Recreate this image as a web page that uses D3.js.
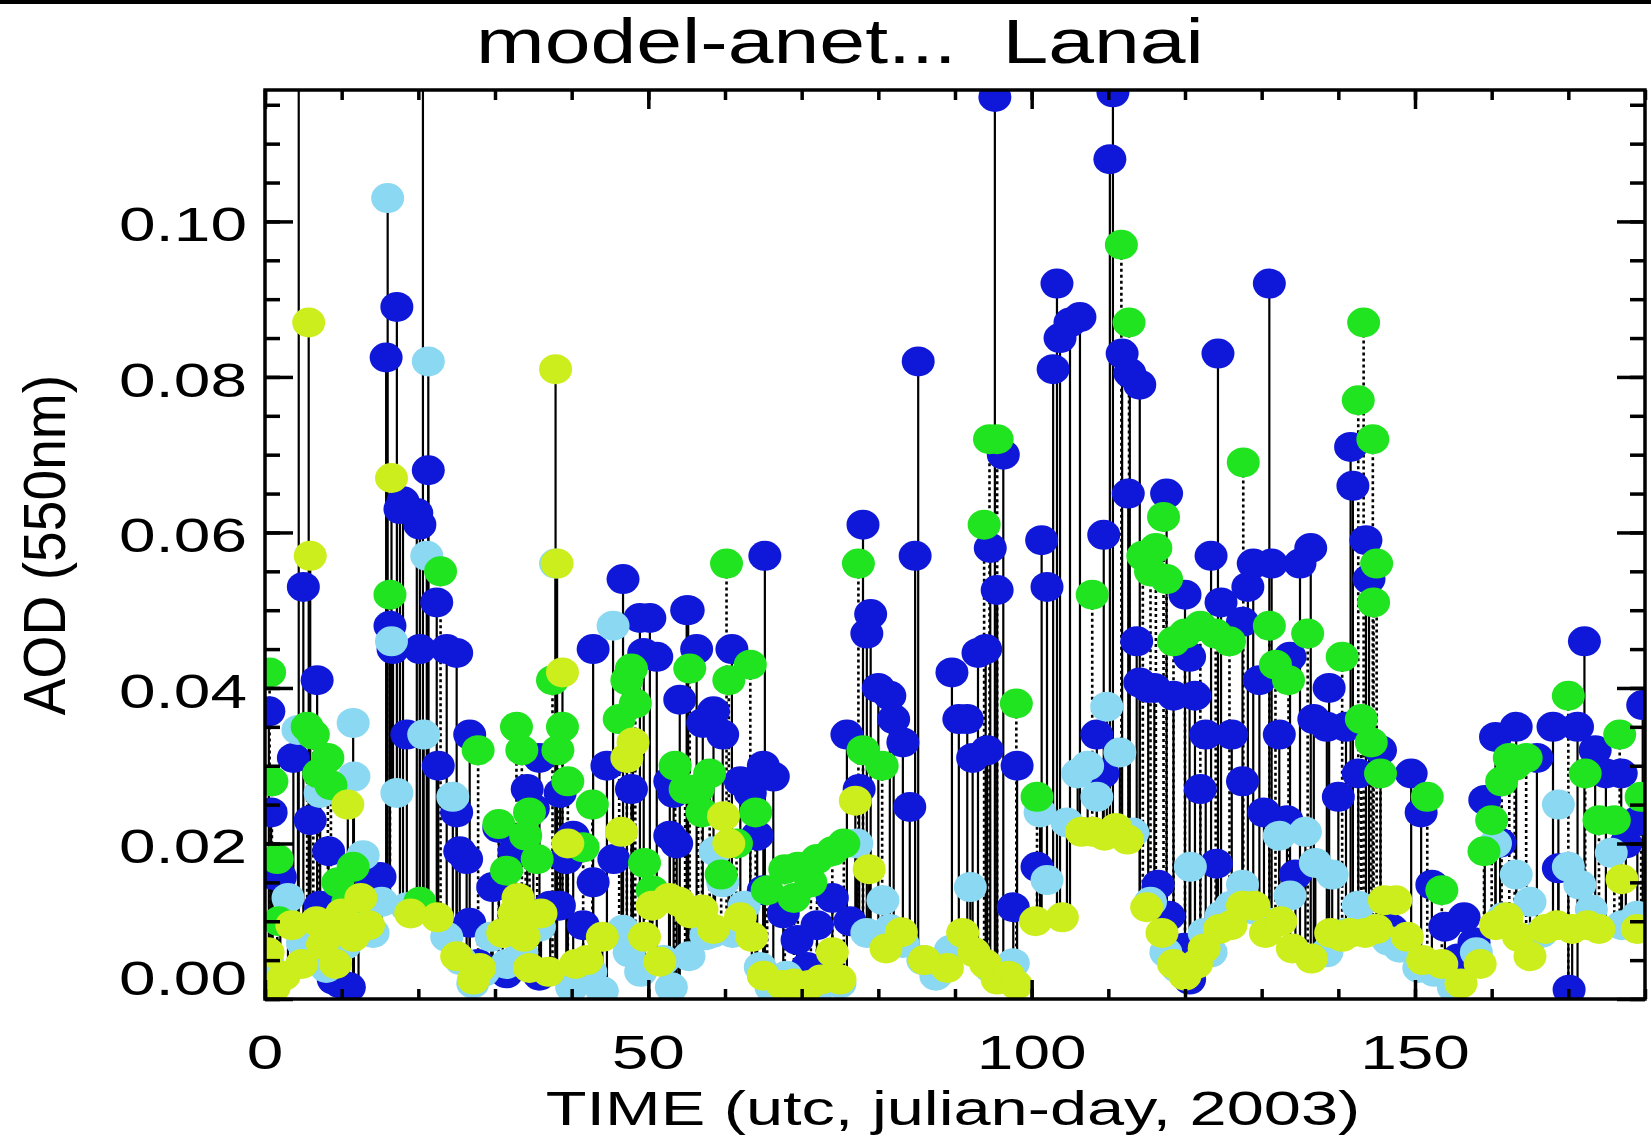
<!DOCTYPE html>
<html>
<head>
<meta charset="utf-8">
<script src="https://cdn.jsdelivr.net/npm/d3@7"></script>
<style>
  body { margin: 0; background: #fff; }
  svg { display: block; }
  text { font-family: "Liberation Sans", Arial, Helvetica, sans-serif; fill: #000; white-space: pre; }
</style>
</head>
<body>
<div id="chart"></div>
<script>
//Observations as [julian day, AOD 550nm], one list per colour
const blueAOD = [
  [0.5,0.037],[0.8,0.024],[1.0,0.016],[2.0,0.0157],[3.7,0.031],[4.4,0.150],[5.0,0.053],[5.9,0.023],[6.8,0.041],[7.2,0.012],
  [8.3,0.019],[8.9,0.0025],[9.8,0.002],[11.0,0.0015],[12.2,0.009],[13.7,0.0157],[15.0,0.0157],[15.8,0.0825],[16.3,0.048],[16.7,0.045],
  [17.2,0.089],[17.6,0.063],[18.0,0.064],[18.5,0.034],[19.8,0.0625],[20.2,0.061],[20.2,0.045],[20.6,0.140],[21.3,0.068],[22.4,0.051],
  [22.6,0.030],[23.7,0.045],[25.0,0.0445],[25.0,0.024],[25.4,0.019],[26.3,0.018],[26.7,0.034],[26.7,0.0098],[27.8,0.0045],[29.7,0.0144],
  [30.5,0.022],[31.5,0.0033],[32.5,0.019],[34.2,0.027],[35.0,0.0245],[35.8,0.031],[35.8,0.003],[37.2,0.012],[38.4,0.012],[38.5,0.0265],
  [39.3,0.018],[40.2,0.021],[41.5,0.0095],[42.8,0.045],[42.8,0.015],[44.6,0.030],[45.5,0.018],[46.7,0.054],[47.8,0.027],[48.9,0.049],
  [49.4,0.0445],[50.2,0.049],[51.1,0.044],[52.8,0.028],[52.8,0.021],[53.3,0.0265],[53.7,0.020],[54.1,0.0385],[55.0,0.050],[55.2,0.050],
  [56.3,0.045],[57.1,0.0355],[58.5,0.037],[59.7,0.034],[60.9,0.045],[62.0,0.028],[63.3,0.0265],[64.2,0.021],[65.0,0.030],[65.2,0.057],
  [65.0,0.014],[66.3,0.0286],[67.6,0.011],[69.4,0.0076],[70.7,0.0041],[72.0,0.0095],[74.0,0.013],[75.9,0.034],[76.3,0.010],[77.5,0.027],
  [78.0,0.061],[78.5,0.047],[79.0,0.0495],[80.0,0.040],[81.5,0.039],[82.0,0.036],[83.2,0.033],[84.1,0.0247],[84.8,0.057],[85.2,0.082],
  [89.6,0.042],[90.5,0.036],[91.6,0.036],[92.3,0.031],[93.0,0.0445],[94.0,0.045],[94.2,0.032],[94.6,0.058],[95.2,0.116],[95.5,0.0526],
  [96.3,0.070],[97.6,0.0118],[98.1,0.030],[100.7,0.017],[101.3,0.059],[102.0,0.053],[102.8,0.081],[103.3,0.092],[103.7,0.085],[105.0,0.087],
  [106.3,0.0877],[108.5,0.034],[109.3,0.029],[109.4,0.0597],[110.2,0.108],[110.6,0.1166],[111.8,0.083],[112.6,0.065],[112.8,0.0805],[113.7,0.046],
  [114.1,0.079],[114.1,0.0407],[115.2,0.040],[116.0,0.040],[116.5,0.0147],[117.6,0.065],[117.9,0.0107],[118.5,0.039],[119.9,0.0066],[120.0,0.052],
  [120.6,0.044],[120.6,0.0025],[121.3,0.039],[122.0,0.027],[122.7,0.034],[123.4,0.057],[124.1,0.0174],[124.3,0.083],[124.7,0.051],[126.1,0.034],
  [127.5,0.0485],[127.5,0.028],[128.2,0.053],[128.9,0.056],[129.7,0.041],[130.3,0.024],[131.0,0.092],[131.3,0.056],[132.3,0.034],[133.3,0.023],
  [133.7,0.044],[134.4,0.016],[135.0,0.056],[136.4,0.058],[136.8,0.036],[138.5,0.035],[138.8,0.040],[140.0,0.026],[141.0,0.035],[141.6,0.071],
  [141.9,0.066],[142.6,0.029],[143.6,0.059],[144.0,0.054],[145.5,0.032],[147.0,0.009],[149.5,0.029],[150.8,0.024],[152.2,0.0147],[153.9,0.0093],
  [155.6,0.0052],[156.4,0.0105],[157.7,0.0073],[159.1,0.0256],[160.5,0.0337],[161.1,0.0201],[163.2,0.035],[165.9,0.031],[168.0,0.035],[168.7,0.0168],
  [170.1,0.0012],[171.2,0.035],[172.1,0.046],[173.5,0.032],[174.9,0.029],[176.9,0.029],[177.5,0.020],[179.0,0.0229],[179.7,0.0378]
];

const cyanAOD = [
  [0.3,0.005],[1.5,0.0025],[3.0,0.013],[4.3,0.0346],[4.9,0.0072],[6.0,0.009],[7.2,0.0265],[8.0,0.004],[10.5,0.007],[11.5,0.0355],
  [11.6,0.0286],[12.8,0.0185],[14.1,0.0085],[15.2,0.0125],[16.0,0.103],[16.5,0.046],[17.2,0.0265],[18.5,0.0118],[20.7,0.034],[21.1,0.057],
  [21.3,0.082],[23.7,0.008],[24.5,0.026],[25.5,0.005],[27.1,0.002],[28.5,0.0035],[29.5,0.008],[31.5,0.0045],[33.5,0.006],[35.8,0.0093],
  [37.9,0.056],[40.0,0.0015],[42.5,0.0035],[44.0,0.001],[45.4,0.048],[46.7,0.0089],[47.5,0.006],[49.0,0.0035],[52.0,0.005],[53.0,0.0015],
  [55.3,0.0055],[57.5,0.0082],[58.4,0.0085],[58.7,0.019],[59.7,0.015],[61.0,0.0085],[62.5,0.012],[64.6,0.0041],[66.0,0.0015],[68.0,0.003],
  [72.0,0.0012],[75.0,0.002],[77.2,0.020],[78.5,0.0085],[80.6,0.0127],[81.5,0.009],[83.2,0.0072],[85.8,0.005],[87.5,0.003],[89.4,0.0063],
  [92.0,0.0144],[94.6,0.004],[97.6,0.0046],[101.1,0.024],[102.0,0.0153],[104.6,0.0227],[106.0,0.029],[107.3,0.030],[108.5,0.026],[109.8,0.0376],
  [111.5,0.0317],[113.2,0.0214],[115.5,0.0125],[117.5,0.006],[119.0,0.004],[120.7,0.017],[122.5,0.0085],[123.4,0.006],[124.7,0.0107],[126.0,0.012],
  [127.5,0.0147],[129.0,0.0115],[131.0,0.0098],[132.3,0.021],[133.7,0.0133],[135.7,0.0215],[137.0,0.0175],[138.5,0.006],[139.2,0.016],[141.0,0.0085],
  [142.6,0.012],[144.5,0.009],[146.5,0.0075],[148.0,0.0066],[150.5,0.004],[152.5,0.0035],[155.0,0.0015],[158.0,0.006],[160.5,0.020],[161.5,0.0105],
  [163.2,0.016],[165.0,0.0125],[166.5,0.0085],[168.7,0.025],[170.0,0.017],[171.5,0.0147],[173.0,0.0115],[175.6,0.0188],[177.0,0.0095],[179.0,0.0107]
];

const greenAOD = [
  [0.6,0.042],[0.9,0.028],[1.6,0.018],[1.8,0.010],[5.5,0.035],[6.3,0.034],[7.0,0.029],[8.2,0.031],[8.6,0.0275],[9.5,0.015],
  [10.8,0.0125],[11.5,0.017],[16.3,0.052],[20.2,0.0125],[22.9,0.055],[27.8,0.032],[30.5,0.0225],[31.5,0.0165],[32.8,0.035],[33.5,0.032],
  [34.5,0.024],[34.0,0.021],[35.5,0.018],[37.5,0.041],[38.2,0.032],[38.8,0.035],[39.5,0.028],[41.5,0.0195],[42.7,0.025],[46.2,0.036],
  [47.2,0.041],[47.8,0.0425],[48.3,0.038],[49.5,0.0175],[50.5,0.014],[53.5,0.030],[54.8,0.027],[55.4,0.0425],[56.5,0.027],[57.0,0.024],
  [58.0,0.029],[59.5,0.016],[60.2,0.056],[60.5,0.041],[61.5,0.020],[63.3,0.043],[64.0,0.024],[65.5,0.014],[67.8,0.0167],[69.0,0.013],
  [69.5,0.017],[71.2,0.015],[72.0,0.018],[74.0,0.019],[75.5,0.020],[77.4,0.056],[78.0,0.032],[80.5,0.030],[93.8,0.061],[94.5,0.072],
  [95.5,0.072],[98.0,0.038],[100.7,0.026],[107.9,0.052],[111.7,0.097],[112.7,0.087],[114.5,0.057],[115.5,0.055],[116.2,0.058],[117.2,0.062],
  [117.6,0.054],[118.5,0.046],[120.0,0.047],[122.0,0.048],[124.0,0.047],[125.8,0.046],[127.6,0.069],[131.0,0.048],[131.8,0.043],[133.5,0.041],
  [136.0,0.047],[140.5,0.044],[142.6,0.077],[143.3,0.087],[144.5,0.072],[144.6,0.051],[145.0,0.056],[143.0,0.036],[144.3,0.033],[145.5,0.029],
  [151.6,0.026],[153.5,0.014],[159.0,0.019],[160.0,0.023],[161.3,0.028],[162.3,0.031],[163.0,0.030],[164.5,0.031],[170.0,0.039],[172.2,0.029],
  [174.0,0.023],[176.0,0.023],[176.7,0.034],[179.5,0.026]
];

const yellowAOD = [
  [0.4,0.006],[1.2,0.0015],[2.5,0.003],[3.5,0.0095],[4.8,0.0045],[5.7,0.087],[5.9,0.057],[6.7,0.010],[7.5,0.007],[8.5,0.0085],
  [9.2,0.0045],[10.0,0.011],[10.8,0.025],[11.5,0.008],[12.5,0.013],[13.5,0.0095],[16.5,0.067],[19.0,0.011],[22.5,0.0105],[25.0,0.0055],
  [27.2,0.0025],[28.0,0.004],[31.0,0.0085],[32.5,0.011],[33.0,0.013],[33.8,0.008],[34.5,0.004],[36.0,0.011],[37.0,0.0035],[37.9,0.081],
  [38.1,0.056],[38.8,0.042],[39.5,0.020],[40.5,0.0045],[42.0,0.005],[44.0,0.008],[46.5,0.0215],[47.2,0.031],[48.0,0.033],[49.5,0.008],
  [50.5,0.012],[51.5,0.0048],[52.7,0.013],[54.0,0.0125],[55.5,0.011],[57.0,0.0115],[58.5,0.009],[59.8,0.0235],[60.5,0.020],[62.0,0.0105],
  [63.5,0.008],[65.0,0.003],[67.5,0.0018],[69.0,0.002],[71.0,0.0018],[72.5,0.0025],[74.0,0.006],[75.0,0.0025],[77.0,0.0255],[78.8,0.0167],
  [81.0,0.0065],[83.0,0.0086],[86.0,0.005],[89.0,0.004],[91.0,0.0085],[92.5,0.006],[94.0,0.0045],[95.5,0.0025],[97.0,0.003],[98.0,0.0018],
  [100.5,0.010],[104.0,0.0105],[106.5,0.0215],[108.0,0.0215],[109.5,0.021],[111.0,0.022],[112.5,0.0205],[115.0,0.0118],[117.0,0.0085],[118.5,0.0045],
  [120.0,0.003],[121.5,0.0045],[122.5,0.0065],[124.5,0.009],[126.0,0.0095],[127.5,0.012],[129.0,0.012],[130.5,0.0085],[132.5,0.010],[134.0,0.0065],
  [136.5,0.0052],[139.0,0.0085],[140.5,0.008],[141.5,0.0085],[143.5,0.0085],[145.0,0.009],[146.0,0.0127],[147.5,0.0127],[149.0,0.008],[151.0,0.005],
  [153.5,0.0045],[156.0,0.002],[158.5,0.0045],[160.5,0.0095],[162.0,0.0105],[163.5,0.008],[165.0,0.0055],[167.0,0.009],[168.5,0.0095],[170.5,0.009],
  [172.5,0.0095],[174.0,0.009],[177.0,0.0154],[179.0,0.009]
];

//Axis setup values
const xDomain = [0, 180];
const yDomain = [0, 0.1169];
const xMajorTicks = [0, 50, 100, 150];
const xMinorTicks = d3.range(0, 181, 10);
const yMajorTicks = [0, 0.02, 0.04, 0.06, 0.08, 0.10];
const yMinorTicks = d3.range(0, 24).map(i => i * 0.005);
const titleText = "model-anet...  Lanai";
const xTitle = "TIME (utc, julian-day, 2003)";
const yTitle = "AOD (550nm)";

//size of the page and the plot box
const width = 1651;
const height = 1144;
const plot = {left: 265, right: 1645, top: 90, bottom: 999};
const stretch = 1.37; //the original lettering is wide

const svg = d3.select("#chart").append("svg")
  .attr("width", width)
  .attr("height", height);

svg.append("rect").attr("width", width).attr("height", height).attr("fill", "#fff");
svg.append("rect").attr("width", width).attr("height", 4).attr("fill", "#000");

//Scales setup
const x = d3.scaleLinear().domain(xDomain).range([plot.left, plot.right]);
const y = d3.scaleLinear().domain(yDomain).range([plot.bottom, plot.top]);

svg.append("clipPath").attr("id", "plotClip")
  .append("rect")
  .attr("x", plot.left).attr("y", plot.top)
  .attr("width", plot.right - plot.left).attr("height", plot.bottom - plot.top);

const g = svg.append("g").attr("clip-path", "url(#plotClip)");

//colours, drawn in this order
const series = [
  {name: "blue", data: blueAOD, color: "#0f18d8"},
  {name: "cyan", data: cyanAOD, color: "#8ad8f2"},
  {name: "green", data: greenAOD, color: "#1fe41f"},
  {name: "yellow", data: yellowAOD, color: "#cbee1c"}
];

const allPts = [];
series.forEach(s => s.data.forEach(d => allPts.push({day: d[0], v: d[1], name: s.name})));

//stems: each point drops to the lowest value observed around the same day
const stems = allPts.map(p => {
  const lo = d3.min(allPts.filter(q => Math.abs(q.day - p.day) <= 1.2), q => q.v);
  return {day: p.day, top: p.v, bottom: lo, dotted: p.name === "green"};
}).filter(s => s.top - s.bottom > 0.0005);

g.selectAll("line.solid")
  .data(stems.filter(s => !s.dotted))
  .join("line")
  .attr("class", "solid")
  .attr("x1", d => x(d.day)).attr("x2", d => x(d.day))
  .attr("y1", d => y(d.top)).attr("y2", d => y(d.bottom))
  .attr("stroke", "#000")
  .attr("stroke-width", 2.2);

g.selectAll("line.dotted")
  .data(stems.filter(s => s.dotted))
  .join("line")
  .attr("class", "dotted")
  .attr("x1", d => x(d.day)).attr("x2", d => x(d.day))
  .attr("y1", d => y(d.top)).attr("y2", d => y(d.bottom))
  .attr("stroke", "#000")
  .attr("stroke-width", 2.6)
  .attr("stroke-dasharray", "3,3");

//dots
series.forEach(s => {
  g.append("g").selectAll("ellipse")
    .data(s.data)
    .join("ellipse")
    .attr("cx", d => x(d[0]))
    .attr("cy", d => y(d[1]))
    .attr("rx", 16.5)
    .attr("ry", 15)
    .attr("fill", s.color);
});

//axes, ticks point inwards on all four sides
function ticks(axis, translate, values, size) {
  const a = svg.append("g")
    .attr("transform", translate)
    .call(axis.tickValues(values).tickSize(-size).tickFormat(""));
  a.select(".domain").remove();
  a.selectAll("line").attr("stroke", "#000").attr("stroke-width", 3.5);
}
ticks(d3.axisBottom(x), `translate(0,${plot.bottom})`, xMinorTicks, 10);
ticks(d3.axisBottom(x), `translate(0,${plot.bottom})`, xMajorTicks, 19);
ticks(d3.axisTop(x), `translate(0,${plot.top})`, xMinorTicks, 10);
ticks(d3.axisTop(x), `translate(0,${plot.top})`, xMajorTicks, 19);
ticks(d3.axisLeft(y), `translate(${plot.left},0)`, yMinorTicks, 15);
ticks(d3.axisLeft(y), `translate(${plot.left},0)`, yMajorTicks, 28);
ticks(d3.axisRight(y), `translate(${plot.right},0)`, yMinorTicks, 15);
ticks(d3.axisRight(y), `translate(${plot.right},0)`, yMajorTicks, 28);

svg.append("rect")
  .attr("x", plot.left).attr("y", plot.top)
  .attr("width", plot.right - plot.left).attr("height", plot.bottom - plot.top)
  .attr("fill", "none")
  .attr("stroke", "#000")
  .attr("stroke-width", 3.5);

//tick labels
svg.selectAll("text.xlab")
  .data(xMajorTicks)
  .join("text")
  .attr("class", "xlab")
  .attr("transform", d => `translate(${x(d)},1069) scale(${stretch},1)`)
  .attr("text-anchor", "middle")
  .style("font-size", "48px")
  .text(d => d);

svg.selectAll("text.ylab")
  .data(yMajorTicks)
  .join("text")
  .attr("class", "ylab")
  .attr("transform", d => `translate(247,${d === 0 ? y(d) - 4 : y(d) + 20}) scale(${stretch},1)`)
  .attr("text-anchor", "end")
  .style("font-size", "48px")
  .text(d => d3.format(".2f")(d));

//titles
svg.append("text")
  .attr("transform", `translate(840,63) scale(1.35,1.03)`)
  .attr("text-anchor", "middle")
  .style("font-size", "61px")
  .text(titleText);

svg.append("text")
  .attr("transform", `translate(953,1125) scale(1.39,1)`)
  .attr("text-anchor", "middle")
  .style("font-size", "48px")
  .text(xTitle);

svg.append("text")
  .attr("transform", `translate(65,545) rotate(-90) scale(1.15,1.25)`)
  .attr("text-anchor", "middle")
  .style("font-size", "48px")
  .text(yTitle);
</script>
</body>
</html>
